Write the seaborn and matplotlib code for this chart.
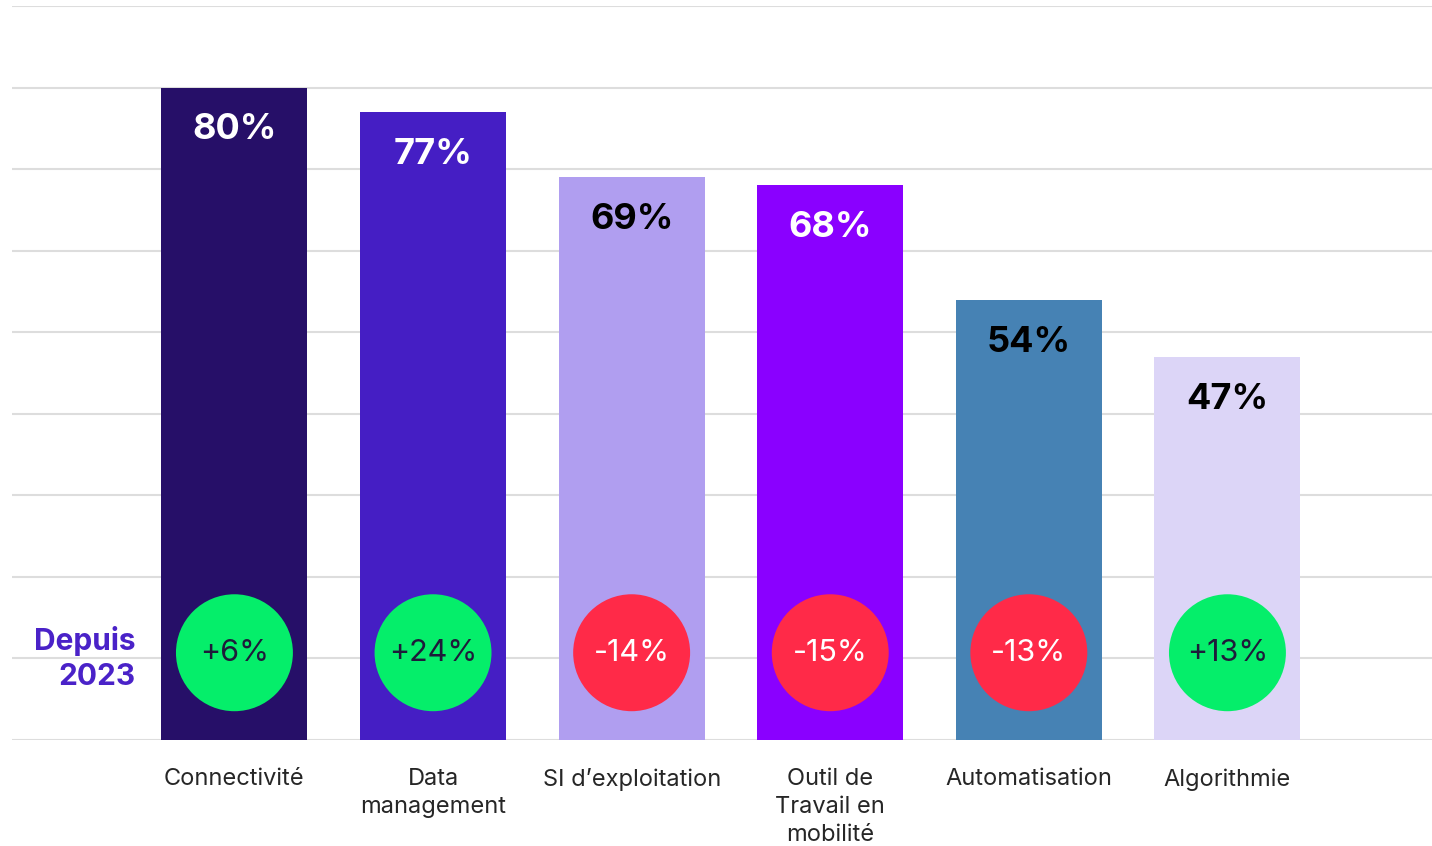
"""Bar chart: adoption par technologie, avec évolution depuis 2023."""

import matplotlib
import pandas as pd
import seaborn as sns

matplotlib.use("Agg")
import matplotlib.pyplot as plt

categories = [
    "Connectivité",
    "Data\nmanagement",
    "SI d\u2019exploitation",
    "Outil de\nTravail en\nmobilité",
    "Automatisation",
    "Algorithmie",
]
values = [80, 77, 69, 68, 54, 47]
changes = ["+6%", "+24%", "-14%", "-15%", "-13%", "+13%"]
bar_colors = ["#260f68", "#451ec4", "#b09ef0", "#8a00ff", "#4682b4", "#dcd5f7"]
label_colors = ["white", "white", "black", "white", "black", "black"]

GREEN = "#05ee6a"
RED = "#ff2a48"
FONT = ["Inter", "DejaVu Sans"]

sns.set_style("white")
plt.rcParams["font.family"] = FONT

frame = pd.DataFrame({"category": categories, "value": values})

fig = plt.figure(figsize=(14.32, 8.46), dpi=100)
ax = fig.add_axes([12 / 1432, 106 / 846, 1420 / 1432, 734 / 846])

sns.barplot(
    data=frame,
    x="category",
    y="value",
    hue="category",
    palette=bar_colors,
    legend=False,
    width=0.735,
    saturation=1,
    linewidth=0,
    ax=ax,
    zorder=3,
)

ax.set_xlim(-1.12, 6.03)
ax.set_ylim(0, 90)
ax.set_yticks(range(0, 91, 10))
ax.yaxis.grid(True, color="#dddddd", linewidth=1.5, zorder=0)
ax.set_axisbelow(True)
ax.tick_params(axis="y", left=False, labelleft=False)
ax.tick_params(axis="x", bottom=False, pad=17, labelsize=17)
for label in ax.get_xticklabels():
    label.set_linespacing(1.33)
    label.set_va("top")
ax.set_xlabel("")
ax.set_ylabel("")
for spine in ax.spines.values():
    spine.set_visible(False)

for i, (val, color) in enumerate(zip(values, label_colors)):
    ax.text(i, val - 5.2, f"{val}%", ha="center", va="center",
            fontsize=26, fontweight="bold", color=color, zorder=5)

circle_colors = [GREEN if c.startswith("+") else RED for c in changes]
ax.scatter(range(len(changes)), [10.7] * len(changes), s=7090,
           c=circle_colors, linewidths=0, zorder=4)
for i, change in enumerate(changes):
    text_color = "#1e1b3a" if change.startswith("+") else "white"
    ax.text(i, 10.7, change, ha="center", va="center", fontsize=22,
            color=text_color, zorder=5)

ax.text(-0.5, 10.0, "Depuis\n2023", ha="right", va="center", fontsize=21.5,
        fontweight="bold", color="#4a22c8", linespacing=1.3)

fig.savefig("out.png", dpi=100)
plt.close(fig)
